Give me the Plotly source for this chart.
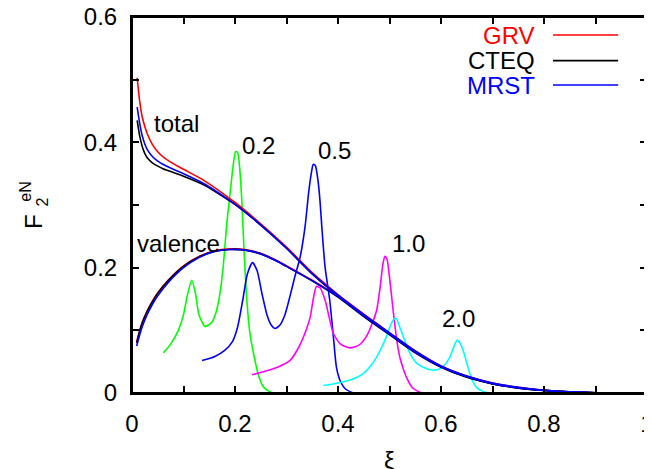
import plotly.graph_objects as go

# ---------------- data ----------------
# total structure functions
x_tot = [0.01, 0.015, 0.02, 0.025, 0.03, 0.04, 0.05, 0.06, 0.08, 0.1, 0.14, 0.2, 0.25, 0.3, 0.35,
         0.4, 0.45, 0.5, 0.55, 0.6, 0.65, 0.7, 0.75, 0.8, 0.85, 0.9, 0.925]
tot_grv = [0.503, 0.465, 0.44, 0.425, 0.413, 0.396, 0.385, 0.377, 0.366, 0.357, 0.339, 0.304, 0.27, 0.233, 0.192,
           0.157, 0.126, 0.096, 0.067, 0.043, 0.027, 0.016, 0.009, 0.0045, 0.002, 0.0005, 0.0]
tot_cteq = [0.435, 0.41, 0.393, 0.382, 0.375, 0.367, 0.362, 0.358, 0.352, 0.346, 0.332, 0.301, 0.268, 0.231, 0.19,
            0.155, 0.124, 0.095, 0.066, 0.042, 0.026, 0.015, 0.0085, 0.0043, 0.0019, 0.0005, 0.0]
tot_mrst = [0.456, 0.43, 0.41, 0.397, 0.388, 0.377, 0.37, 0.365, 0.357, 0.35, 0.334, 0.301, 0.268, 0.231, 0.19,
            0.156, 0.125, 0.096, 0.067, 0.043, 0.027, 0.016, 0.009, 0.0045, 0.002, 0.0005, 0.0]

# valence structure functions
x_val = [0.009, 0.015, 0.02, 0.03, 0.04, 0.05, 0.07, 0.1, 0.13, 0.16, 0.19, 0.22, 0.25, 0.28, 0.3, 0.35,
         0.4, 0.45, 0.5, 0.55, 0.6, 0.65, 0.7, 0.75, 0.8, 0.85, 0.9, 0.925]
val_grv = [0.081, 0.1, 0.113, 0.132, 0.147, 0.16, 0.18, 0.203, 0.218, 0.227, 0.23, 0.229, 0.223, 0.212, 0.203, 0.18,
           0.154, 0.123, 0.094, 0.065, 0.042, 0.026, 0.015, 0.008, 0.004, 0.0017, 0.0004, 0.0]
val_cteq = [0.08, 0.099, 0.112, 0.131, 0.146, 0.159, 0.179, 0.202, 0.217, 0.226, 0.229, 0.228, 0.222, 0.211, 0.202, 0.179,
            0.153, 0.122, 0.093, 0.064, 0.041, 0.025, 0.0145, 0.0078, 0.0039, 0.0016, 0.0004, 0.0]
val_mrst = [0.075, 0.093, 0.106, 0.126, 0.142, 0.155, 0.176, 0.2, 0.216, 0.226, 0.229, 0.228, 0.222, 0.211, 0.202, 0.179,
            0.154, 0.123, 0.094, 0.065, 0.042, 0.026, 0.015, 0.008, 0.004, 0.0017, 0.0004, 0.0]

# resonance region curves, labelled by Q^2
x_q02 = [0.061, 0.075, 0.09, 0.1, 0.108, 0.116, 0.123, 0.13, 0.142, 0.155, 0.164, 0.171, 0.177, 0.184,
         0.19, 0.196, 0.201, 0.205, 0.209, 0.213, 0.218, 0.223, 0.229, 0.236, 0.245, 0.255, 0.265, 0.275]
y_q02 = [0.064, 0.078, 0.1, 0.125, 0.158, 0.18, 0.16, 0.125, 0.106, 0.113, 0.131, 0.16, 0.201, 0.27,
         0.315, 0.36, 0.385, 0.384, 0.36, 0.31, 0.22, 0.148, 0.095, 0.063, 0.03, 0.01, 0.003, 0.0]

x_q05 = [0.136, 0.16, 0.18, 0.195, 0.205, 0.215, 0.224, 0.234, 0.243, 0.252, 0.262, 0.27, 0.278, 0.287,
         0.297, 0.307, 0.316, 0.326, 0.336, 0.343, 0.349, 0.352, 0.356, 0.361, 0.365, 0.369, 0.375, 0.384,
         0.391, 0.397, 0.405, 0.415, 0.43]
y_q05 = [0.052, 0.058, 0.068, 0.082, 0.105, 0.148, 0.19, 0.208, 0.195, 0.16, 0.125, 0.109, 0.103, 0.108,
         0.125, 0.155, 0.185, 0.215, 0.265, 0.32, 0.355, 0.365, 0.363, 0.34, 0.307, 0.26, 0.2, 0.148,
         0.09, 0.041, 0.018, 0.006, 0.0]

x_q10 = [0.233, 0.26, 0.285, 0.307, 0.325, 0.338, 0.346, 0.352, 0.358, 0.365, 0.375, 0.391, 0.405, 0.423,
         0.44, 0.455, 0.466, 0.475, 0.482, 0.487, 0.491, 0.495, 0.5, 0.507, 0.514, 0.52, 0.527, 0.533,
         0.545, 0.562]
y_q10 = [0.029, 0.035, 0.042, 0.052, 0.075, 0.1, 0.121, 0.15, 0.17, 0.168, 0.148, 0.095, 0.078, 0.072,
         0.076, 0.09, 0.11, 0.132, 0.17, 0.205, 0.218, 0.214, 0.185, 0.132, 0.085, 0.057, 0.038, 0.025,
         0.008, 0.0]

x_q20 = [0.372, 0.4, 0.425, 0.449, 0.465, 0.48, 0.494, 0.503, 0.51, 0.514, 0.52, 0.53, 0.54, 0.555, 0.575,
         0.592, 0.605, 0.617, 0.626, 0.631, 0.635, 0.643, 0.65, 0.656, 0.662, 0.669, 0.68, 0.692]
y_q20 = [0.012, 0.016, 0.021, 0.031, 0.045, 0.065, 0.09, 0.11, 0.119, 0.118, 0.105, 0.083, 0.063, 0.046, 0.038,
         0.037, 0.043, 0.057, 0.076, 0.084, 0.082, 0.068, 0.048, 0.031, 0.018, 0.009, 0.003, 0.0]

q2_labels = ["0.2", "0.5", "1.0", "2.0"]
q2_label_x = [0.245, 0.394, 0.537, 0.634]
q2_label_y = [0.395, 0.387, 0.238, 0.119]

pdf_names = ["GRV", "CTEQ", "MRST"]

x_ticks = [0, 0.1, 0.2, 0.3, 0.4, 0.5, 0.6, 0.7, 0.8, 0.9, 1.0]
x_ticktext = ["0", "", "0.2", "", "0.4", "", "0.6", "", "0.8", "", "1"]
y_ticks = [0, 0.1, 0.2, 0.3, 0.4, 0.5, 0.6]
y_ticktext = ["0", "", "0.2", "", "0.4", "", "0.6"]

# ---------------- styling ----------------
FONT = "Liberation Sans, Arial, Helvetica, sans-serif"
FS = 24
pdf_colors = ["#ff0000", "#000000", "#0000ff"]
res_colors = ["#00ff00", "#0000ff", "#ff00ff", "#00ffff"]
LW = 1.6

fig = go.Figure()

res_sets = [(x_q02, y_q02), (x_q05, y_q05), (x_q10, y_q10), (x_q20, y_q20)]
for (xs, ys), c in zip(res_sets, res_colors):
    fig.add_trace(go.Scatter(x=xs, y=ys, mode="lines", showlegend=False,
                             line=dict(color=c, width=LW, shape="spline", smoothing=0.6)))

for tot, val, c in zip([tot_grv, tot_cteq, tot_mrst], [val_grv, val_cteq, val_mrst], pdf_colors):
    fig.add_trace(go.Scatter(x=x_tot, y=tot, mode="lines", showlegend=False,
                             line=dict(color=c, width=LW, shape="spline", smoothing=0.6)))
    fig.add_trace(go.Scatter(x=x_val, y=val, mode="lines", showlegend=False,
                             line=dict(color=c, width=LW, shape="spline", smoothing=0.6)))

annotations = []
# in-plot labels
annotations.append(dict(x=0.0868, y=0.430, text="total", showarrow=False,
                        font=dict(family=FONT, size=FS, color="black")))
annotations.append(dict(x=0.09, y=0.239, text="valence", showarrow=False,
                        font=dict(family=FONT, size=FS, color="black")))
for t, lx, ly in zip(q2_labels, q2_label_x, q2_label_y):
    annotations.append(dict(x=lx, y=ly, text=t, showarrow=False,
                            font=dict(family=FONT, size=FS, color="black")))

# legend (text left of the sample line, right aligned)
legend_rows = [0.952, 0.884, 0.819]
shapes = [dict(type="rect", xref="paper", yref="paper", x0=0, x1=1, y0=0, y1=1,
               line=dict(color="black", width=2), fillcolor="rgba(0,0,0,0)", layer="above")]
for name, c, ry in zip(pdf_names, pdf_colors, legend_rows):
    annotations.append(dict(xref="paper", yref="paper", x=0.786, y=ry, text=name,
                            xanchor="right", yanchor="middle", showarrow=False,
                            font=dict(family=FONT, size=FS, color=c)))
    shapes.append(dict(type="line", xref="paper", yref="paper", x0=0.8175, x1=0.944,
                       y0=ry, y1=ry, line=dict(color=c, width=LW)))

# axis titles
annotations.append(dict(xref="paper", yref="paper", x=0.5, y=-0.18, text="ξ",
                        showarrow=False, xanchor="center", yanchor="middle",
                        font=dict(family=FONT, size=FS, color="black")))
annotations.append(dict(xref="paper", yref="paper", x=-0.190, y=0.455, text="F",
                        textangle=-90, showarrow=False, xanchor="center", yanchor="middle",
                        font=dict(family=FONT, size=FS, color="black")))
annotations.append(dict(xref="paper", yref="paper", x=-0.172, y=0.508, text="2",
                        textangle=-90, showarrow=False, xanchor="center", yanchor="middle",
                        font=dict(family=FONT, size=16, color="black")))
annotations.append(dict(xref="paper", yref="paper", x=-0.206, y=0.535, text="eN",
                        textangle=-90, showarrow=False, xanchor="center", yanchor="middle",
                        font=dict(family=FONT, size=16, color="black")))

axis_common = dict(showline=True, linecolor="black", linewidth=2, mirror="ticks",
                   ticks="inside", ticklen=7, tickwidth=1.5, tickcolor="black",
                   showgrid=False, zeroline=False, automargin=False,
                   ticklabeloverflow="allow",
                   tickfont=dict(family=FONT, size=FS, color="black"))

# the page body adds an 8px offset: margins place the frame where the reference has it
fig.update_layout(
    width=652, height=469,
    margin=dict(l=124, r=13, t=9, b=84, pad=0, autoexpand=False),
    paper_bgcolor="white", plot_bgcolor="white",
    xaxis=dict(range=[0, 1], tickmode="array", tickvals=x_ticks, ticktext=x_ticktext,
               ticklabelstandoff=8, **axis_common),
    yaxis=dict(range=[0, 0.6], tickmode="array", tickvals=y_ticks, ticktext=y_ticktext,
               ticklabelstandoff=8, **axis_common),
    annotations=annotations,
    shapes=shapes,
    showlegend=False,
)

fig.write_html("out.html")
